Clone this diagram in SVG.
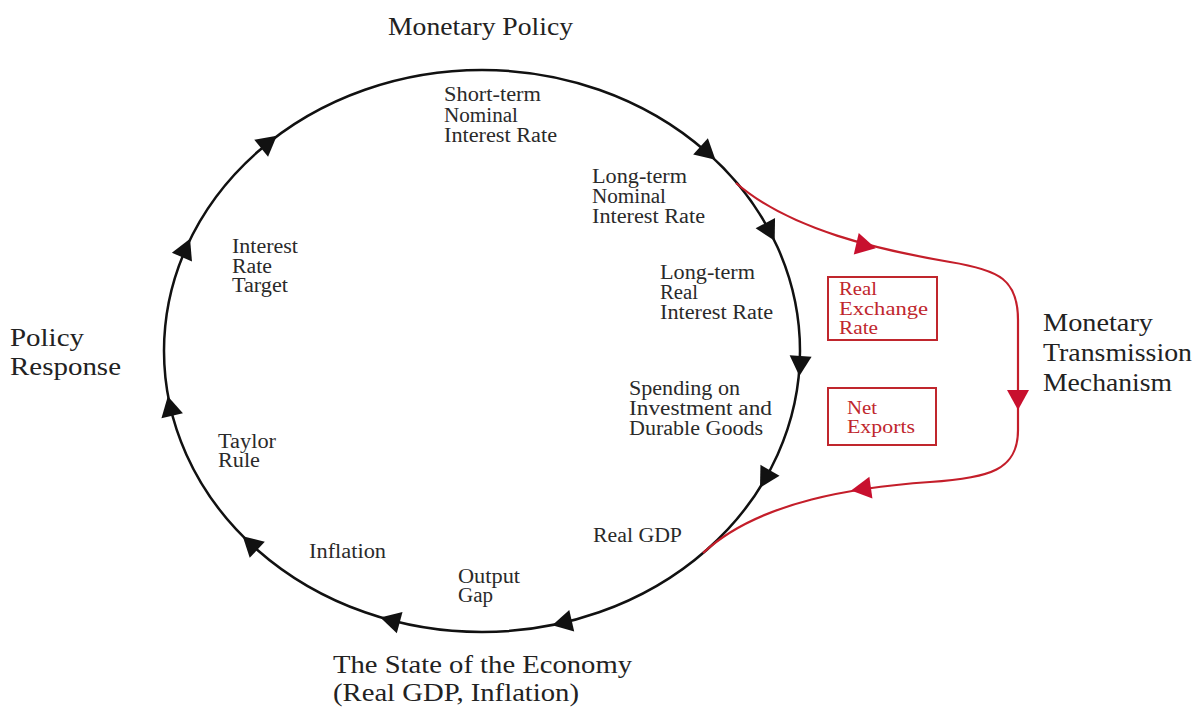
<svg xmlns="http://www.w3.org/2000/svg" width="1195" height="709" viewBox="0 0 1195 709">
  <style>
    text { lengthAdjust: spacingAndGlyphs; }
    .big { font-family: "Liberation Serif", "Times New Roman", serif; font-size: 26px; fill: #222; }
    .lbl { font-family: "Liberation Serif", "Times New Roman", serif; font-size: 20px; fill: #2a2a2a; }
    .red { font-family: "Liberation Serif", "Times New Roman", serif; font-size: 19px; fill: #c0262d; }
    .box { fill: none; stroke: #c0262d; stroke-width: 2; }
    .cycle { fill: none; stroke: #111; stroke-width: 2.5; }
    .chan { fill: none; stroke: #c41e2a; stroke-width: 2.2; }
    .ah { fill: #111; }
    .ahr { fill: #c8102e; }
  </style>
  <defs>
    <polygon id="tri" points="10,0 -10,-11 -10,11"/>
  </defs>
  <rect width="1195" height="709" fill="#ffffff"/>

  <g id="connectors">
    <ellipse class="cycle" cx="482" cy="351" rx="318" ry="281"/>
    <use href="#tri" class="ah" transform="translate(708,153) rotate(41.8)"/>
    <use href="#tri" class="ah" transform="translate(770,232) rotate(62.1)"/>
    <use href="#tri" class="ah" transform="translate(800,366) rotate(93.5)"/>
    <use href="#tri" class="ah" transform="translate(765,479) rotate(120)"/>
    <use href="#tri" class="ah" transform="translate(562,623) rotate(167)"/>
    <use href="#tri" class="ah" transform="translate(390,620) rotate(-165)"/>
    <use href="#tri" class="ah" transform="translate(250,543) rotate(-136.7)"/>
    <use href="#tri" class="ah" transform="translate(170,406) rotate(-102.6)"/>
    <use href="#tri" class="ah" transform="translate(186,248) rotate(-66)"/>
    <use href="#tri" class="ah" transform="translate(269,142) rotate(-38.6)"/>

    <path class="chan" d="M736,183 C790,230 880,250 950,262 C1000,270 1018,280 1018,320 L1018,430 C1018,470 990,478 930,482 C860,487 760,500 703,553"/>
    <use href="#tri" class="ahr" transform="translate(866,246) rotate(13)"/>
    <use href="#tri" class="ahr" transform="translate(1018,400) rotate(90)"/>
    <use href="#tri" class="ahr" transform="translate(861,489) rotate(172)"/>
  </g>

  <g id="monetary-policy"><text class="big" x="388" y="35" textLength="185" lengthAdjust="spacingAndGlyphs">Monetary Policy</text></g>
  <g id="policy-response">
    <text class="big" x="10" y="346" textLength="74" lengthAdjust="spacingAndGlyphs">Policy</text>
    <text class="big" x="10" y="375" textLength="111" lengthAdjust="spacingAndGlyphs">Response</text>
  </g>
  <g id="transmission">
    <text class="big" x="1043" y="331" textLength="110" lengthAdjust="spacingAndGlyphs">Monetary</text>
    <text class="big" x="1043" y="361" textLength="149" lengthAdjust="spacingAndGlyphs">Transmission</text>
    <text class="big" x="1043" y="391" textLength="129" lengthAdjust="spacingAndGlyphs">Mechanism</text>
  </g>
  <g id="state-economy">
    <text class="big" x="333" y="673" textLength="299" lengthAdjust="spacingAndGlyphs">The State of the Economy</text>
    <text class="big" x="333" y="701" textLength="246" lengthAdjust="spacingAndGlyphs">(Real GDP, Inflation)</text>
  </g>

  <g id="short-term">
    <text class="lbl" x="444" y="101" textLength="97" lengthAdjust="spacingAndGlyphs">Short-term</text>
    <text class="lbl" x="444" y="122" textLength="74" lengthAdjust="spacingAndGlyphs">Nominal</text>
    <text class="lbl" x="444" y="142" textLength="113" lengthAdjust="spacingAndGlyphs">Interest Rate</text>
  </g>
  <g id="long-nominal">
    <text class="lbl" x="592" y="183" textLength="95" lengthAdjust="spacingAndGlyphs">Long-term</text>
    <text class="lbl" x="592" y="203" textLength="74" lengthAdjust="spacingAndGlyphs">Nominal</text>
    <text class="lbl" x="592" y="223" textLength="113" lengthAdjust="spacingAndGlyphs">Interest Rate</text>
  </g>
  <g id="long-real">
    <text class="lbl" x="660" y="279" textLength="95" lengthAdjust="spacingAndGlyphs">Long-term</text>
    <text class="lbl" x="660" y="299" textLength="38" lengthAdjust="spacingAndGlyphs">Real</text>
    <text class="lbl" x="660" y="319" textLength="113" lengthAdjust="spacingAndGlyphs">Interest Rate</text>
  </g>
  <g id="spending">
    <text class="lbl" x="629" y="395" textLength="111" lengthAdjust="spacingAndGlyphs">Spending on</text>
    <text class="lbl" x="629" y="415" textLength="143" lengthAdjust="spacingAndGlyphs">Investment and</text>
    <text class="lbl" x="629" y="435" textLength="134" lengthAdjust="spacingAndGlyphs">Durable Goods</text>
  </g>
  <g id="real-gdp"><text class="lbl" x="593" y="542" textLength="89" lengthAdjust="spacingAndGlyphs">Real GDP</text></g>
  <g id="output-gap">
    <text class="lbl" x="458" y="583" textLength="62" lengthAdjust="spacingAndGlyphs">Output</text>
    <text class="lbl" x="458" y="602" textLength="35" lengthAdjust="spacingAndGlyphs">Gap</text>
  </g>
  <g id="inflation"><text class="lbl" x="309" y="558" textLength="77" lengthAdjust="spacingAndGlyphs">Inflation</text></g>
  <g id="taylor-rule">
    <text class="lbl" x="218" y="448" textLength="58" lengthAdjust="spacingAndGlyphs">Taylor</text>
    <text class="lbl" x="218" y="467" textLength="42" lengthAdjust="spacingAndGlyphs">Rule</text>
  </g>
  <g id="rate-target">
    <text class="lbl" x="232" y="253" textLength="66" lengthAdjust="spacingAndGlyphs">Interest</text>
    <text class="lbl" x="232" y="273" textLength="40" lengthAdjust="spacingAndGlyphs">Rate</text>
    <text class="lbl" x="232" y="292" textLength="56" lengthAdjust="spacingAndGlyphs">Target</text>
  </g>

  <g id="real-exchange-rate">
    <rect class="box" x="828" y="277" width="109" height="63"/>
    <text class="red" x="839" y="295" textLength="38" lengthAdjust="spacingAndGlyphs">Real</text>
    <text class="red" x="839" y="315" textLength="89" lengthAdjust="spacingAndGlyphs">Exchange</text>
    <text class="red" x="839" y="334" textLength="39" lengthAdjust="spacingAndGlyphs">Rate</text>
  </g>
  <g id="net-exports">
    <rect class="box" x="828" y="388" width="108" height="57"/>
    <text class="red" x="847" y="414" textLength="30" lengthAdjust="spacingAndGlyphs">Net</text>
    <text class="red" x="847" y="433" textLength="68" lengthAdjust="spacingAndGlyphs">Exports</text>
  </g>
</svg>
